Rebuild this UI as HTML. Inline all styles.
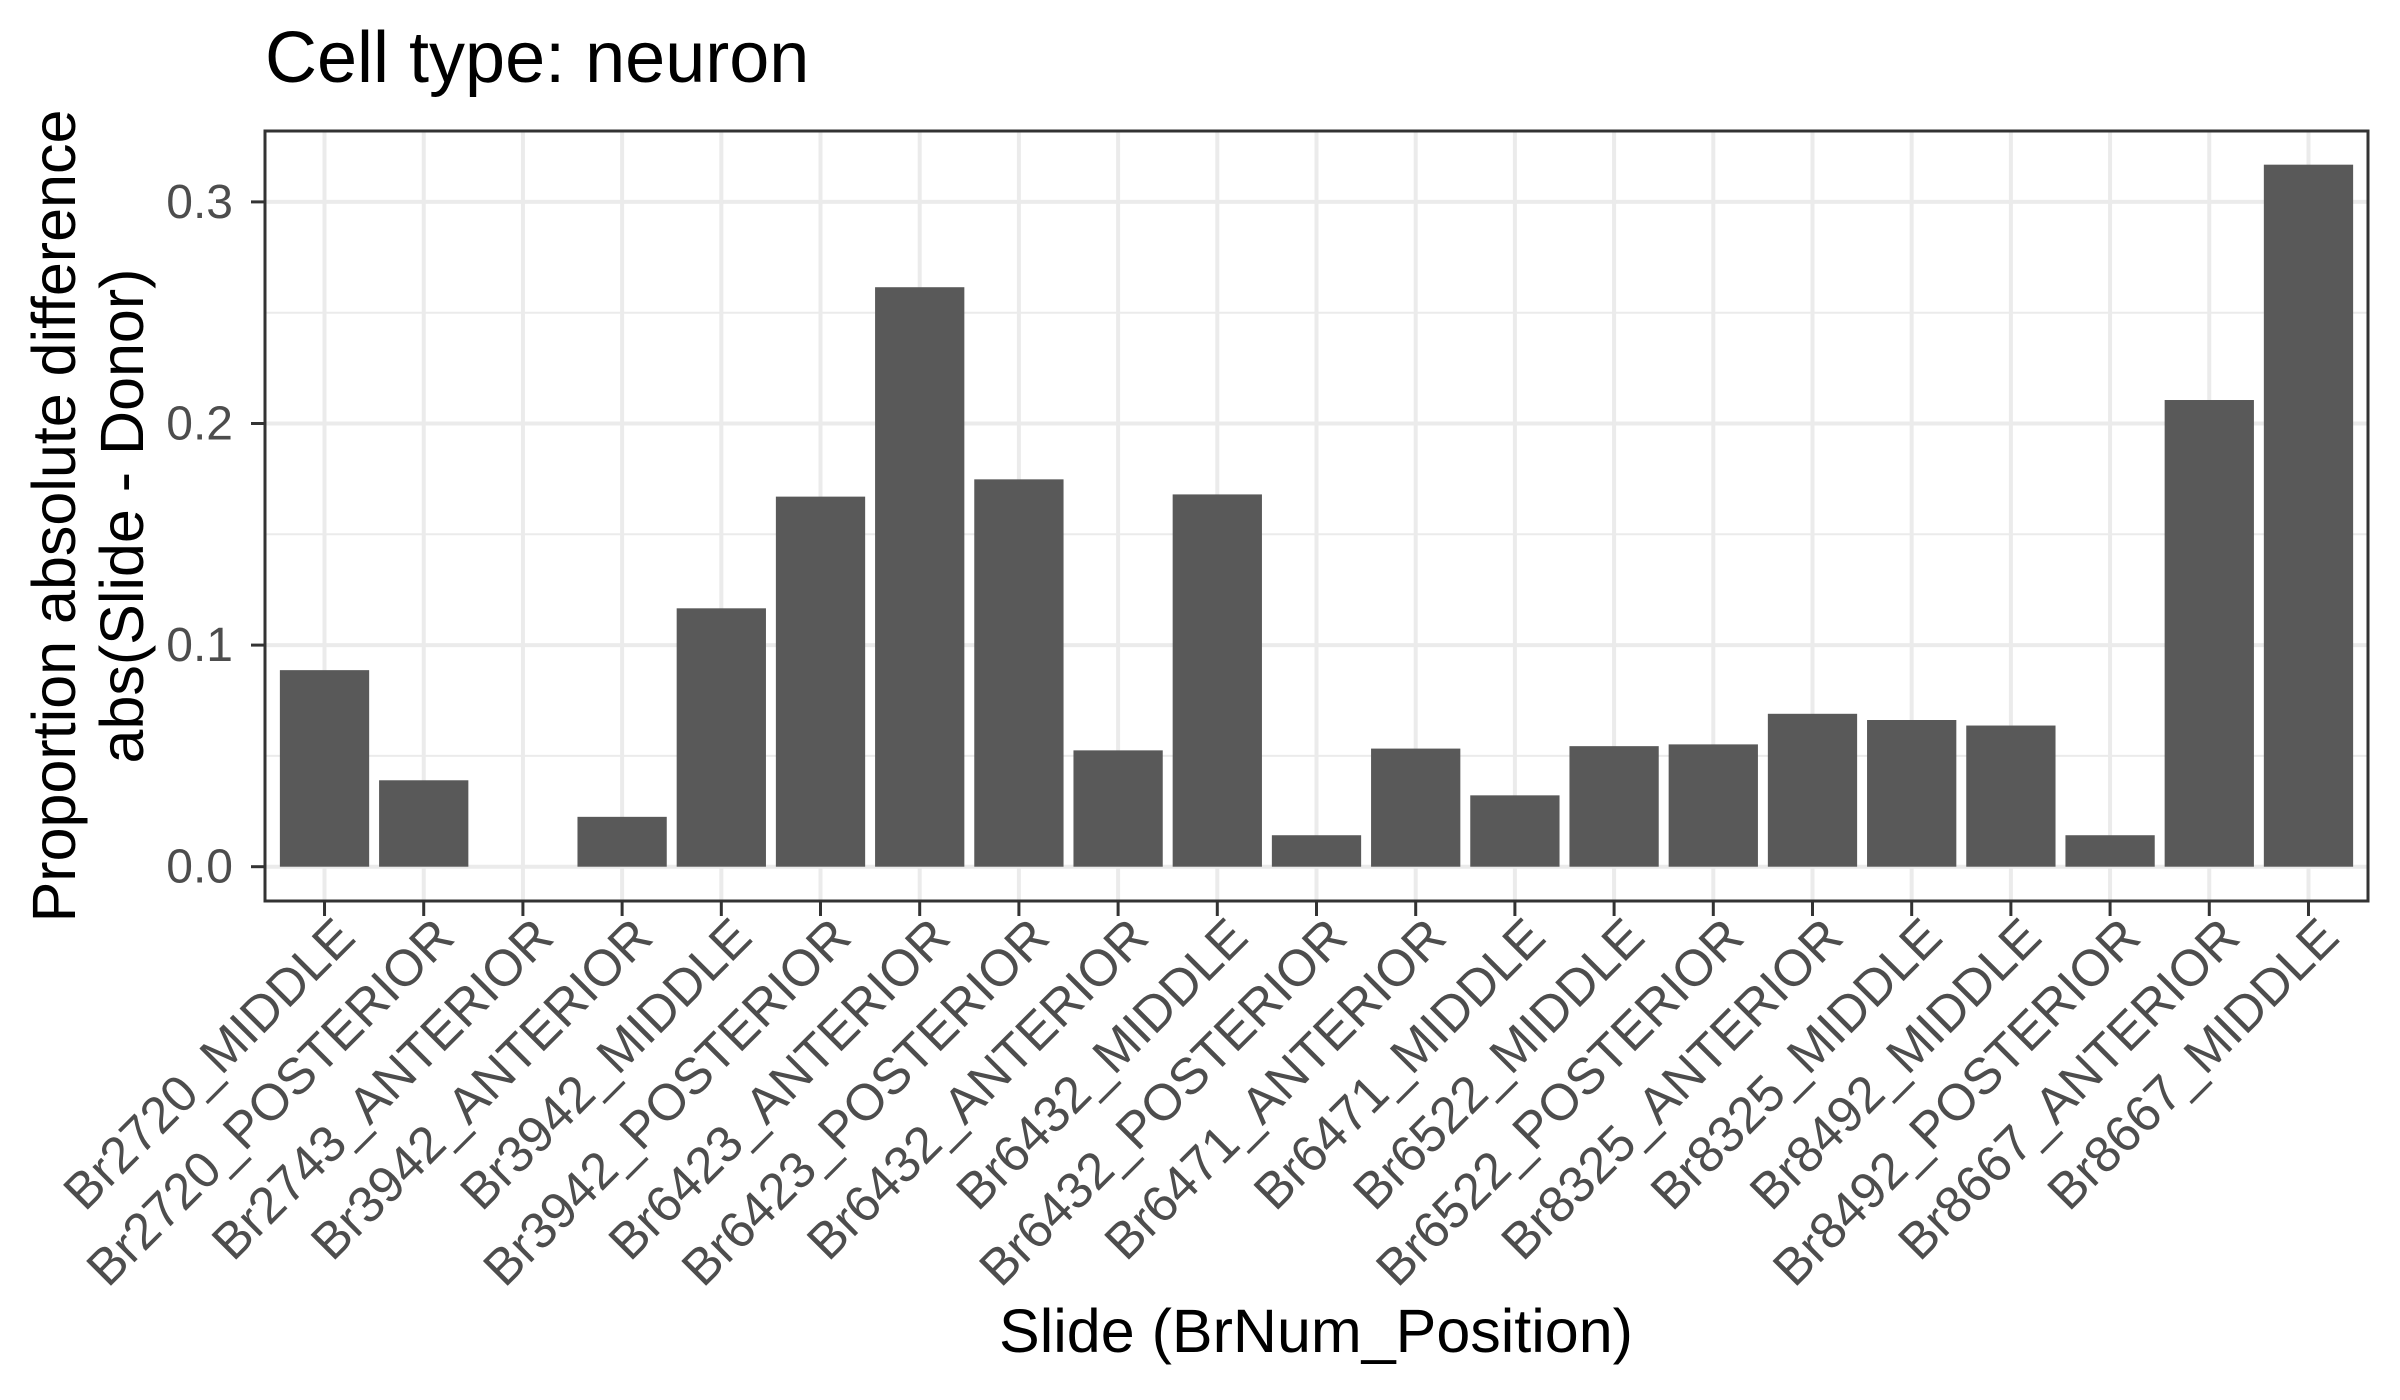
<!DOCTYPE html>
<html><head><meta charset="utf-8"><style>
html,body{margin:0;padding:0;background:#fff;}
svg{display:block;font-family:"Liberation Sans",Arial,sans-serif;}
</style></head><body>
<svg id="chart" width="2400" height="1400" viewBox="0 0 2400 1400" xmlns="http://www.w3.org/2000/svg">
<rect x="0" y="0" width="2400" height="1400" fill="#fff"/>
<text x="265" y="82" font-size="72" fill="#000">Cell type: neuron</text>
<g id="grid"></g><g id="bars"></g><g id="axes"></g>
<text transform="translate(75,516) rotate(-90)" text-anchor="middle" font-size="61" fill="#000">Proportion absolute difference</text>
<text transform="translate(143,516) rotate(-90)" text-anchor="middle" font-size="61" fill="#000">abs(Slide - Donor)</text>
<text x="1316" y="1352" text-anchor="middle" font-size="61" fill="#000">Slide (BrNum_Position)</text>
</svg>
<script>
const categories = ["Br2720_MIDDLE","Br2720_POSTERIOR","Br2743_ANTERIOR","Br3942_ANTERIOR","Br3942_MIDDLE","Br3942_POSTERIOR","Br6423_ANTERIOR","Br6423_POSTERIOR","Br6432_ANTERIOR","Br6432_MIDDLE","Br6432_POSTERIOR","Br6471_ANTERIOR","Br6471_MIDDLE","Br6522_MIDDLE","Br6522_POSTERIOR","Br8325_ANTERIOR","Br8325_MIDDLE","Br8492_MIDDLE","Br8492_POSTERIOR","Br8667_ANTERIOR","Br8667_MIDDLE"];
const values = [0.0887,0.039,0,0.0225,0.1166,0.167,0.2615,0.1748,0.0525,0.168,0.0142,0.0533,0.0322,0.0544,0.0552,0.069,0.0662,0.0637,0.0142,0.2106,0.3168];
const yTicks = [0,0.1,0.2,0.3];
const yTickLabels = ["0.0","0.1","0.2","0.3"];
const yMinor = [0.05,0.15,0.25];

const NS="http://www.w3.org/2000/svg";
const PL=265, PR=2368, PT=131, PB=901;
const Y0=866.7, PXPER=2216;
const step=(PR-PL)/(categories.length-1+1.2);
function xScale(i){return PL+step*(0.6+i);}
function yScale(v){return Y0-v*PXPER;}
function mk(tag,attrs,parent){const e=document.createElementNS(NS,tag);for(const k in attrs)e.setAttribute(k,attrs[k]);parent.appendChild(e);return e;}
const grid=document.getElementById('grid'),bars=document.getElementById('bars'),axes=document.getElementById('axes');
mk('rect',{x:PL,y:PT,width:PR-PL,height:PB-PT,fill:'#fff'},grid);
yMinor.forEach(v=>{const l=mk('line',{x1:PL,x2:PR,y1:yScale(v),y2:yScale(v),stroke:'#ebebeb','stroke-width':2},grid);

});
yTicks.forEach(v=>{const l=mk('line',{x1:PL,x2:PR,y1:yScale(v),y2:yScale(v),stroke:'#ebebeb','stroke-width':4},grid);

});
categories.forEach((c,i)=>{const l=mk('line',{x1:xScale(i),x2:xScale(i),y1:PT,y2:PB,stroke:'#ebebeb','stroke-width':4},grid);

});
const bw=step*0.9;
values.forEach((v,i)=>{const r=mk('rect',{x:xScale(i)-bw/2,y:yScale(v),width:bw,height:Math.max(0,Y0-yScale(v)),fill:'#595959'},bars);

});
const fr=mk('rect',{x:PL,y:PT,width:PR-PL,height:PB-PT,fill:'none',stroke:'#333','stroke-width':3},axes);


yTicks.forEach((v,i)=>{const y=yScale(v);
mk('line',{x1:PL-14,x2:PL,y1:y,y2:y,stroke:'#333','stroke-width':3},axes);
const t=mk('text',{x:233,y:y+16,'text-anchor':'end','font-size':48,fill:'#4d4d4d'},axes);t.textContent=yTickLabels[i];

});
categories.forEach((c,i)=>{const x=xScale(i);
mk('line',{x1:x,x2:x,y1:PB,y2:PB+15,stroke:'#333','stroke-width':3},axes);
const t=mk('text',{transform:'translate('+(x+33)+',940) rotate(-45)','text-anchor':'end','font-size':51,fill:'#4d4d4d'},axes);t.textContent=c;

});
</script>
</body></html>
